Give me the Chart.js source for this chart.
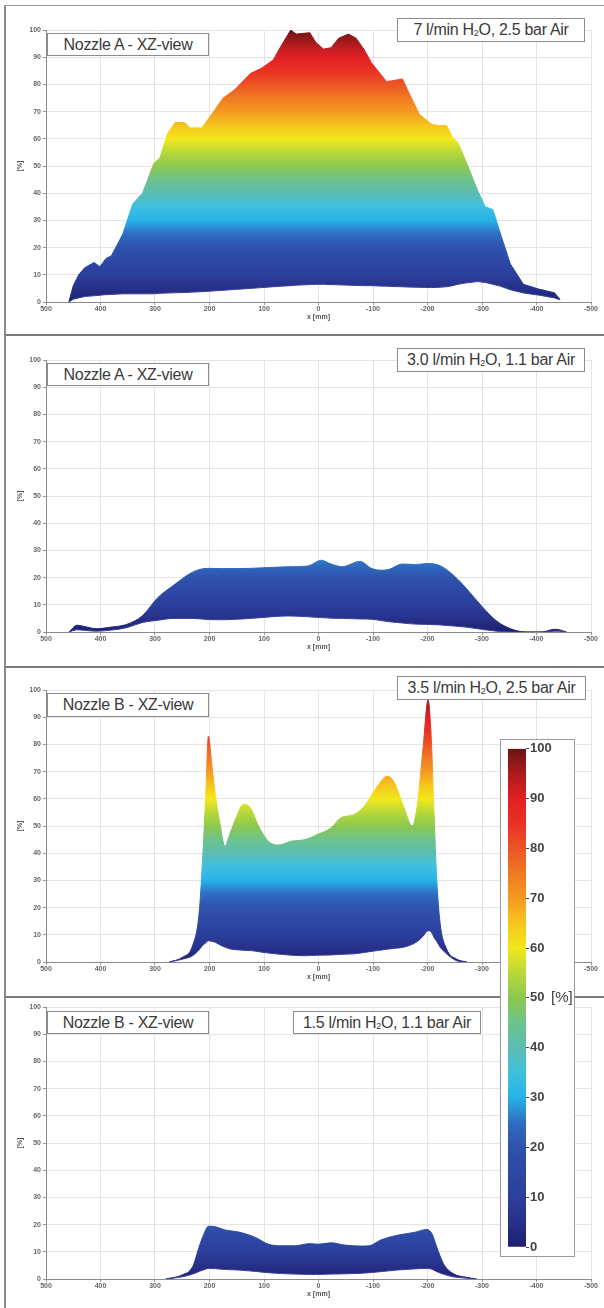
<!DOCTYPE html>
<html>
<head>
<meta charset="utf-8">
<script src="https://cdn.jsdelivr.net/npm/chart.js@4.4.1/dist/chart.umd.min.js"></script>
<style>
  body { margin: 0; background: #fff; }
  #page { position: relative; width: 604px; height: 1308px; overflow: hidden; font-family: "Liberation Sans", Arial, sans-serif; }
  .hline { position: absolute; left: 4px; right: 0; height: 2px; background: #7a7a7a; }
  .vline { position: absolute; left: 4px; top: 6px; bottom: 0; width: 2px; background: #8a8a8a; }
  .plot { position: absolute; left: 0; }
  .note { position: absolute; box-sizing: border-box; border: 1px solid #8c8c8c; background: #fff; color: #3a3a3a;
          font-size: 16px; letter-spacing: -0.3px; text-align: center; white-space: nowrap; }
  .note sub { font-size: 9px; vertical-align: -1px; line-height: 0; }
  #cbar { position: absolute; left: 500px; top: 739px; width: 75px; height: 518px; box-sizing: border-box;
          border: 1px solid #9a9a9a; background: #fff; }
  #cbar canvas { position: absolute; left: 0; top: 0; }
  #cbunit { position: absolute; left: 551px; top: 988px; font-size: 15px; color: #444; }
</style>
</head>
<body>
<div id="page">
  <div class="hline" style="top:5px;height:1px;background:#999"></div>
  <div class="hline" style="top:334px"></div>
  <div class="hline" style="top:666px"></div>
  <div class="hline" style="top:996px"></div>
  <div class="vline"></div>

  <canvas class="plot" id="p1" width="604" height="301" style="top:20px"></canvas>
  <canvas class="plot" id="p2" width="604" height="301" style="top:350px"></canvas>
  <canvas class="plot" id="p3" width="604" height="301" style="top:680px"></canvas>
  <canvas class="plot" id="p4" width="604" height="301" style="top:997px"></canvas>

  <div class="note" style="left:47px;top:33px;width:162px;height:23px;line-height:21px">Nozzle A - XZ-view</div>
  <div class="note" style="left:397px;top:18px;width:188px;height:24px;line-height:22px">7 l/min H<sub>2</sub>O, 2.5 bar Air</div>
  <div class="note" style="left:47px;top:363px;width:162px;height:23px;line-height:21px">Nozzle A - XZ-view</div>
  <div class="note" style="left:397px;top:348px;width:188px;height:24px;line-height:22px">3.0 l/min H<sub>2</sub>O, 1.1 bar Air</div>
  <div class="note" style="left:47px;top:693px;width:162px;height:24px;line-height:22px">Nozzle B - XZ-view</div>
  <div class="note" style="left:397px;top:676px;width:189px;height:24px;line-height:22px">3.5 l/min H<sub>2</sub>O, 2.5 bar Air</div>
  <div class="note" style="left:47px;top:1011px;width:162px;height:23px;line-height:21px">Nozzle B - XZ-view</div>
  <div class="note" style="left:293px;top:1011px;width:188px;height:23px;line-height:21px">1.5 l/min H<sub>2</sub>O, 1.1 bar Air</div>

  <div id="cbar"><canvas id="cb" width="73" height="516"></canvas></div>
  <div id="cbunit">[%]</div>
</div>

<script>
// colour map (jet-like), levels in %
const cmapLevels = [0, 5, 10, 20, 25, 30, 35, 40, 45, 50, 55, 60, 65, 70, 75, 80, 85, 90, 95, 100];
const cmapColors = ['#1c1f6e', '#27318a', '#2b3f9c', '#2f52ad', '#2f6dc2', '#27b3e8', '#3fbfe0', '#5bbdb2', '#6ec28c',
                    '#8cc84e', '#b9d83a', '#f2e71a', '#f6c41e', '#f49a20', '#f07a22', '#ec5424', '#e93124', '#e21f25',
                    '#ad1b1e', '#6a1512'];

const xTicks = [-500, -400, -300, -200, -100, 0, 100, 200, 300, 400, 500];
const yTicks = [0, 10, 20, 30, 40, 50, 60, 70, 80, 90, 100];

// Nozzle A, 7 l/min H2O, 2.5 bar Air
const p1X = [458, 450, 440, 429, 412, 401, 390, 380, 359, 341, 323, 302, 291, 277, 263, 246, 235, 214, 196, 175,
             154, 125, 104, 83, 69, 51, 41, 16, 5, -9, -23, -37, -55, -69, -83, -97, -125, -154, -164, -185,
             -207, -221, -235, -246, -256, -270, -292, -306, -320, -334, -352, -376, -405, -433, -443];
const p1Top = [0, 6, 10, 12.6, 14.5, 13, 16, 17, 25, 36, 40, 51, 53, 62, 66, 66, 64, 64, 69, 75,
               78, 84, 86, 89, 94, 100, 98.5, 99, 95.5, 93, 93.5, 97, 98.5, 97, 93, 88, 81, 82, 77.7, 69,
               65.4, 64.8, 65, 60.5, 58.6, 52, 41, 35, 34, 25, 14, 6.5, 4.7, 3.4, 1];
const p1Bot = [0, 1, 1.5, 2, 2.3, 2.5, 2.7, 2.8, 3, 3, 3, 3, 3.2, 3.3, 3.4, 3.5, 3.6, 3.8, 4, 4.3,
               4.6, 5, 5.3, 5.6, 5.8, 6, 6.2, 6.4, 6.5, 6.5, 6.4, 6.3, 6.2, 6.1, 6, 6, 5.8, 5.6, 5.5, 5.4,
               5.3, 5.4, 5.6, 6, 6.5, 7, 7.5, 7.2, 6.5, 5.8, 4.5, 3.3, 2.5, 1.5, 0.8];

// Nozzle A, 3.0 l/min H2O, 1.1 bar Air
const p2X = [458, 443, 429, 408, 380, 352, 323, 295, 267, 231, 203, 175, 125, 55, 19, -5, -23, -44, -76, -97,
             -115, -129, -154, -178, -200, -224, -249, -270, -299, -327, -355, -383, -410, -433, -440, -447, -455];
const p2Top = [0, 2.5, 2, 1.2, 1.8, 2.8, 6, 12.6, 17, 22, 23.4, 23.3, 23.4, 24, 24.3, 26.4, 25, 24, 26, 23.4,
               22.7, 23, 25, 24.8, 25.2, 24.3, 20.6, 16.3, 9.6, 4, 1, 0, 0, 1, 0.9, 0.5, 0];
const p2Bot = [0, 0.8, 0.6, 0.3, 0.7, 1.6, 3.5, 4.3, 5, 5, 4.6, 4.5, 5, 5.9, 5.6, 5.3, 5.1, 5, 4.8, 4.7,
               4.2, 3.8, 3.3, 2.9, 2.8, 2.6, 2.2, 1.8, 1, 0.3, 0, 0, 0, 0.3, 0.3, 0.2, 0];

// Nozzle B, 3.5 l/min H2O, 2.5 bar Air
const p3X = [274, 250, 231, 219, 213, 207, 202, 196, 189, 180, 172, 162, 150, 138, 125, 110, 92, 74, 50, 25,
             1, -23, -41, -65, -84, -108, -126, -138, -156, -172, -181, -192, -201, -207, -212, -217, -223, -235, -253, -272];
const p3Top = [0, 1.7, 6, 18, 36.5, 61, 83, 73, 61, 50, 42.6, 47.5, 53.6, 58, 56.7, 50, 44.4, 43, 44.4, 45,
               47, 49.3, 53, 54.2, 57.3, 64.6, 68.3, 66.4, 57.3, 50, 57.3, 79, 96.3, 81.7, 54.8, 30.4, 14.5, 4.8, 1.1, 0];
const p3Bot = [0, 1, 2.3, 4.5, 6, 7, 7.8, 7.6, 7.2, 6.2, 5.5, 4.8, 4.5, 4.3, 4.2, 3.8, 3.3, 2.9, 2.5, 2.3,
               2.5, 2.6, 2.8, 3, 3.5, 4.2, 4.7, 5, 5.4, 6.5, 7.5, 9.5, 11.5, 11, 9, 7.5, 5.5, 3, 0.5, 0];

// Nozzle B, 1.5 l/min H2O, 1.1 bar Air
const p4X = [280, 250, 231, 219, 210, 202, 189, 171, 147, 116, 92, 68, 44, 16, 0, -23, -47, -78, -93, -114,
             -145, -175, -199, -208, -217, -229, -247, -272, -290];
const p4Top = [0, 1.5, 4.5, 11.8, 16.7, 19.4, 19.2, 18, 17.3, 15.3, 12.8, 12.2, 12.2, 13, 12.8, 13.3, 12.5, 12.1, 12.2, 14.3,
               16.1, 17.1, 18.2, 16.7, 11.8, 5.7, 2, 0.6, 0];
const p4Bot = [0, 0.8, 1.8, 2.8, 3.4, 3.9, 3.8, 3.5, 3.3, 2.8, 2.3, 2, 1.8, 1.7, 1.7, 1.8, 1.9, 2.1, 2.3, 2.7,
               3.3, 3.7, 3.9, 3.6, 2.7, 1.8, 0.8, 0.3, 0];

const tickFont = { family: '"Liberation Sans", Arial, sans-serif', size: 7, weight: 'bold' };

// vertical gradient: colour follows the y value (0..100 %)
function jetFill(context) {
  const chart = context.chart;
  if (!chart.chartArea) return 'rgba(0,0,0,0)';
  const ys = chart.scales.y;
  const g = chart.ctx.createLinearGradient(0, ys.getPixelForValue(0), 0, ys.getPixelForValue(100));
  cmapLevels.forEach((v, i) => g.addColorStop(v / 100, cmapColors[i]));
  return g;
}

// smooth = true -> monotone curve, otherwise straight segments (jagged edge)
function makePanel(id, xs, top, bot, smooth) {
  const shape = smooth ? { cubicInterpolationMode: 'monotone' } : { tension: 0 };
  new Chart(document.getElementById(id), {
    type: 'line',
    data: {
      datasets: [
        Object.assign({ data: xs.map((x, i) => ({ x: x, y: bot[i] })), borderColor: '#3b3f9e', borderWidth: 1,
          pointRadius: 0, fill: false }, shape),
        Object.assign({ data: xs.map((x, i) => ({ x: x, y: top[i] })), borderColor: jetFill, backgroundColor: jetFill,
          borderWidth: 1, pointRadius: 0, fill: '-1' }, shape)
      ]
    },
    options: {
      responsive: false,
      animation: false,
      devicePixelRatio: 1,
      layout: { padding: { top: 10, left: 16, right: 13, bottom: 0 } },
      plugins: { legend: { display: false }, tooltip: { enabled: false } },
      scales: {
        x: {
          type: 'linear', reverse: true, min: -500, max: 500,
          afterBuildTicks: s => { s.ticks = xTicks.map(v => ({ value: v })); },
          ticks: { font: tickFont, color: '#666', padding: 0, maxRotation: 0, autoSkip: false },
          grid: { color: '#e4e4e4', tickLength: 3, tickColor: '#999' },
          border: { color: '#8a8a8a' },
          title: { display: true, text: 'x [mm]', font: tickFont, color: '#555', padding: 0 },
          afterFit: s => { s.height = 19; }
        },
        y: {
          min: 0, max: 100,
          afterBuildTicks: s => { s.ticks = yTicks.map(v => ({ value: v })); },
          ticks: { font: tickFont, color: '#666', padding: 2 },
          grid: { color: '#e4e4e4', tickLength: 3, tickColor: '#999' },
          border: { color: '#8a8a8a' },
          title: { display: true, text: '[%]', font: tickFont, color: '#555', padding: 0 },
          afterFit: s => { s.width = 30; }
        }
      }
    }
  });
}

makePanel('p1', p1X, p1Top, p1Bot, false);
makePanel('p2', p2X, p2Top, p2Bot, true);
makePanel('p3', p3X, p3Top, p3Bot, true);
makePanel('p4', p4X, p4Top, p4Bot, true);

// colour bar
new Chart(document.getElementById('cb'), {
  type: 'bar',
  data: { labels: [''], datasets: [{ data: [[0, 100]], backgroundColor: jetFill, borderWidth: 0,
                                     barPercentage: 1, categoryPercentage: 1 }] },
  options: {
    responsive: false,
    animation: false,
    devicePixelRatio: 1,
    layout: { padding: { top: 7, left: 7, right: 0, bottom: 9 } },
    plugins: { legend: { display: false }, tooltip: { enabled: false } },
    scales: {
      x: { display: false },
      y: {
        position: 'right', min: 0, max: 100,
        afterBuildTicks: s => { s.ticks = yTicks.map(v => ({ value: v })); },
        ticks: { font: { family: '"Liberation Sans", Arial, sans-serif', size: 13, weight: 'bold' }, color: '#444', padding: 1 },
        grid: { drawOnChartArea: false, tickLength: 3, tickColor: '#444' },
        border: { display: false },
        afterFit: s => { s.width = 48; }
      }
    }
  }
});
</script>
</body>
</html>
